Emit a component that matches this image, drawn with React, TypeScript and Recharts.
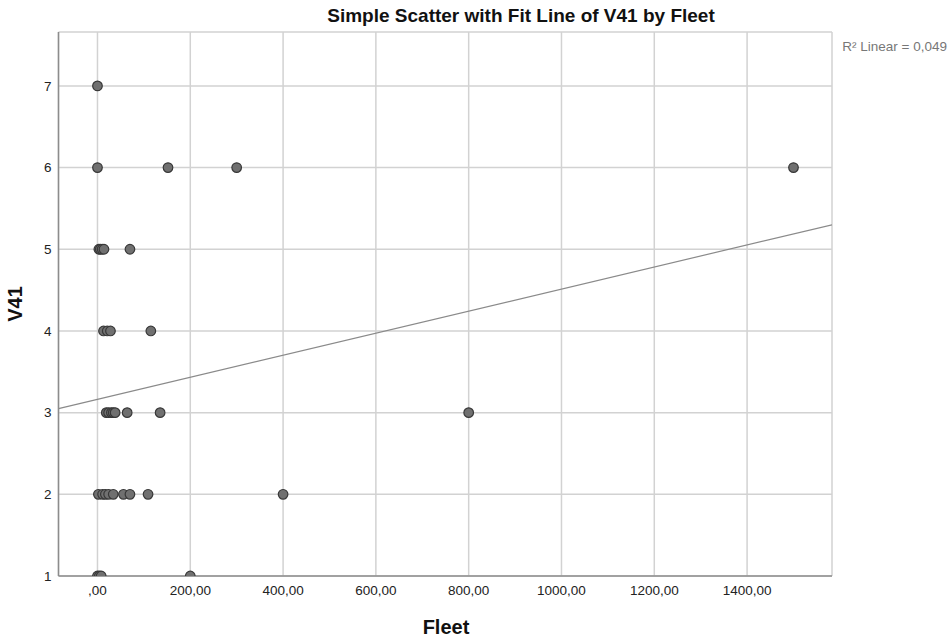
import React from "react";
import {
  ScatterChart,
  Scatter,
  XAxis,
  YAxis,
  CartesianGrid,
  ReferenceLine,
} from "recharts";

// Fleet values grouped by V41 value
const v41Values = [7, 6, 5, 4, 3, 2, 1];
const fleetByV41: number[][] = [
  [0],
  [0, 152, 300, 1500],
  [3, 6, 10, 14, 70],
  [13, 21, 28, 115],
  [19, 24, 30, 34, 38, 64, 135, 800],
  [2, 11, 17, 24, 34, 56, 70, 109, 400],
  [0, 4, 8, 200],
];

const xTicks = [0, 200, 400, 600, 800, 1000, 1200, 1400];
const yTicks = [1, 2, 3, 4, 5, 6, 7];
const xDomain: [number, number] = [-84, 1583];
const yDomain: [number, number] = [1, 7.66];

// Linear fit
const fitIntercept = 3.163;
const fitSlope = 0.00135;
const r2Label = "R² Linear = 0,049";

const points = v41Values.flatMap((v, i) =>
  fleetByV41[i].map((f) => ({ fleet: f, v41: v }))
);

const fmtX = (v: number) => {
  const s = v.toFixed(2).replace(".", ",");
  return s.startsWith("0,") ? s.slice(1) : s;
};

const font = "'Liberation Sans', Arial, sans-serif";

export default function App() {
  return (
    <div
      style={{
        position: "absolute",
        left: 0,
        top: 0,
        width: 949,
        height: 640,
        background: "#fff",
        fontFamily: font,
      }}
    >
      <ScatterChart
        width={949}
        height={640}
        margin={{ top: 32, right: 117, bottom: 34, left: 0 }}
      >
        <CartesianGrid stroke="#d2d2d2" strokeWidth={1.5} />
        <XAxis
          type="number"
          dataKey="fleet"
          domain={xDomain}
          ticks={xTicks}
          allowDataOverflow
          tickFormatter={fmtX}
          height={30}
          tickLine={false}
          tickSize={0}
          tickMargin={9}
          axisLine={{ stroke: "#8c8c8c", strokeWidth: 1.5 }}
          tick={{ fill: "#222", fontSize: 13.5, fontFamily: font }}
        />
        <YAxis
          type="number"
          dataKey="v41"
          domain={yDomain}
          ticks={yTicks}
          allowDataOverflow
          width={58.5}
          tickLine={false}
          tickSize={0}
          tickMargin={7}
          axisLine={{ stroke: "#8c8c8c", strokeWidth: 1.5 }}
          tick={{ fill: "#222", fontSize: 13.5, fontFamily: font }}
        />
        <ReferenceLine
          segment={[
            { x: xDomain[0], y: fitIntercept + fitSlope * xDomain[0] },
            { x: xDomain[1], y: fitIntercept + fitSlope * xDomain[1] },
          ]}
          stroke="#8a8a8a"
          strokeWidth={1.2}
          ifOverflow="hidden"
        />
        <Scatter
          data={points}
          fill="#707070"
          stroke="#383838"
          isAnimationActive={false}
          shape={(p: any) => (
            <circle
              cx={p.cx}
              cy={p.cy}
              r={4.8}
              fill="#707070"
              stroke="#383838"
              strokeWidth={1.2}
            />
          )}
        />
        <text
          x={521}
          y={22}
          textAnchor="middle"
          fontSize={19}
          fontWeight="bold"
          fontFamily={font}
          fill="#111"
        >
          Simple Scatter with Fit Line of V41 by Fleet
        </text>
        <text
          x={947}
          y={51}
          textAnchor="end"
          fontSize={13.5}
          fontFamily={font}
          fill="#777"
        >
          {r2Label}
        </text>
        <text
          x={446}
          y={634}
          textAnchor="middle"
          fontSize={20}
          fontWeight="bold"
          fontFamily={font}
          fill="#111"
        >
          Fleet
        </text>
        <text
          x={22}
          y={304}
          textAnchor="middle"
          fontSize={20}
          fontWeight="bold"
          fontFamily={font}
          fill="#111"
          transform="rotate(-90 22 304)"
        >
          V41
        </text>
      </ScatterChart>
    </div>
  );
}
